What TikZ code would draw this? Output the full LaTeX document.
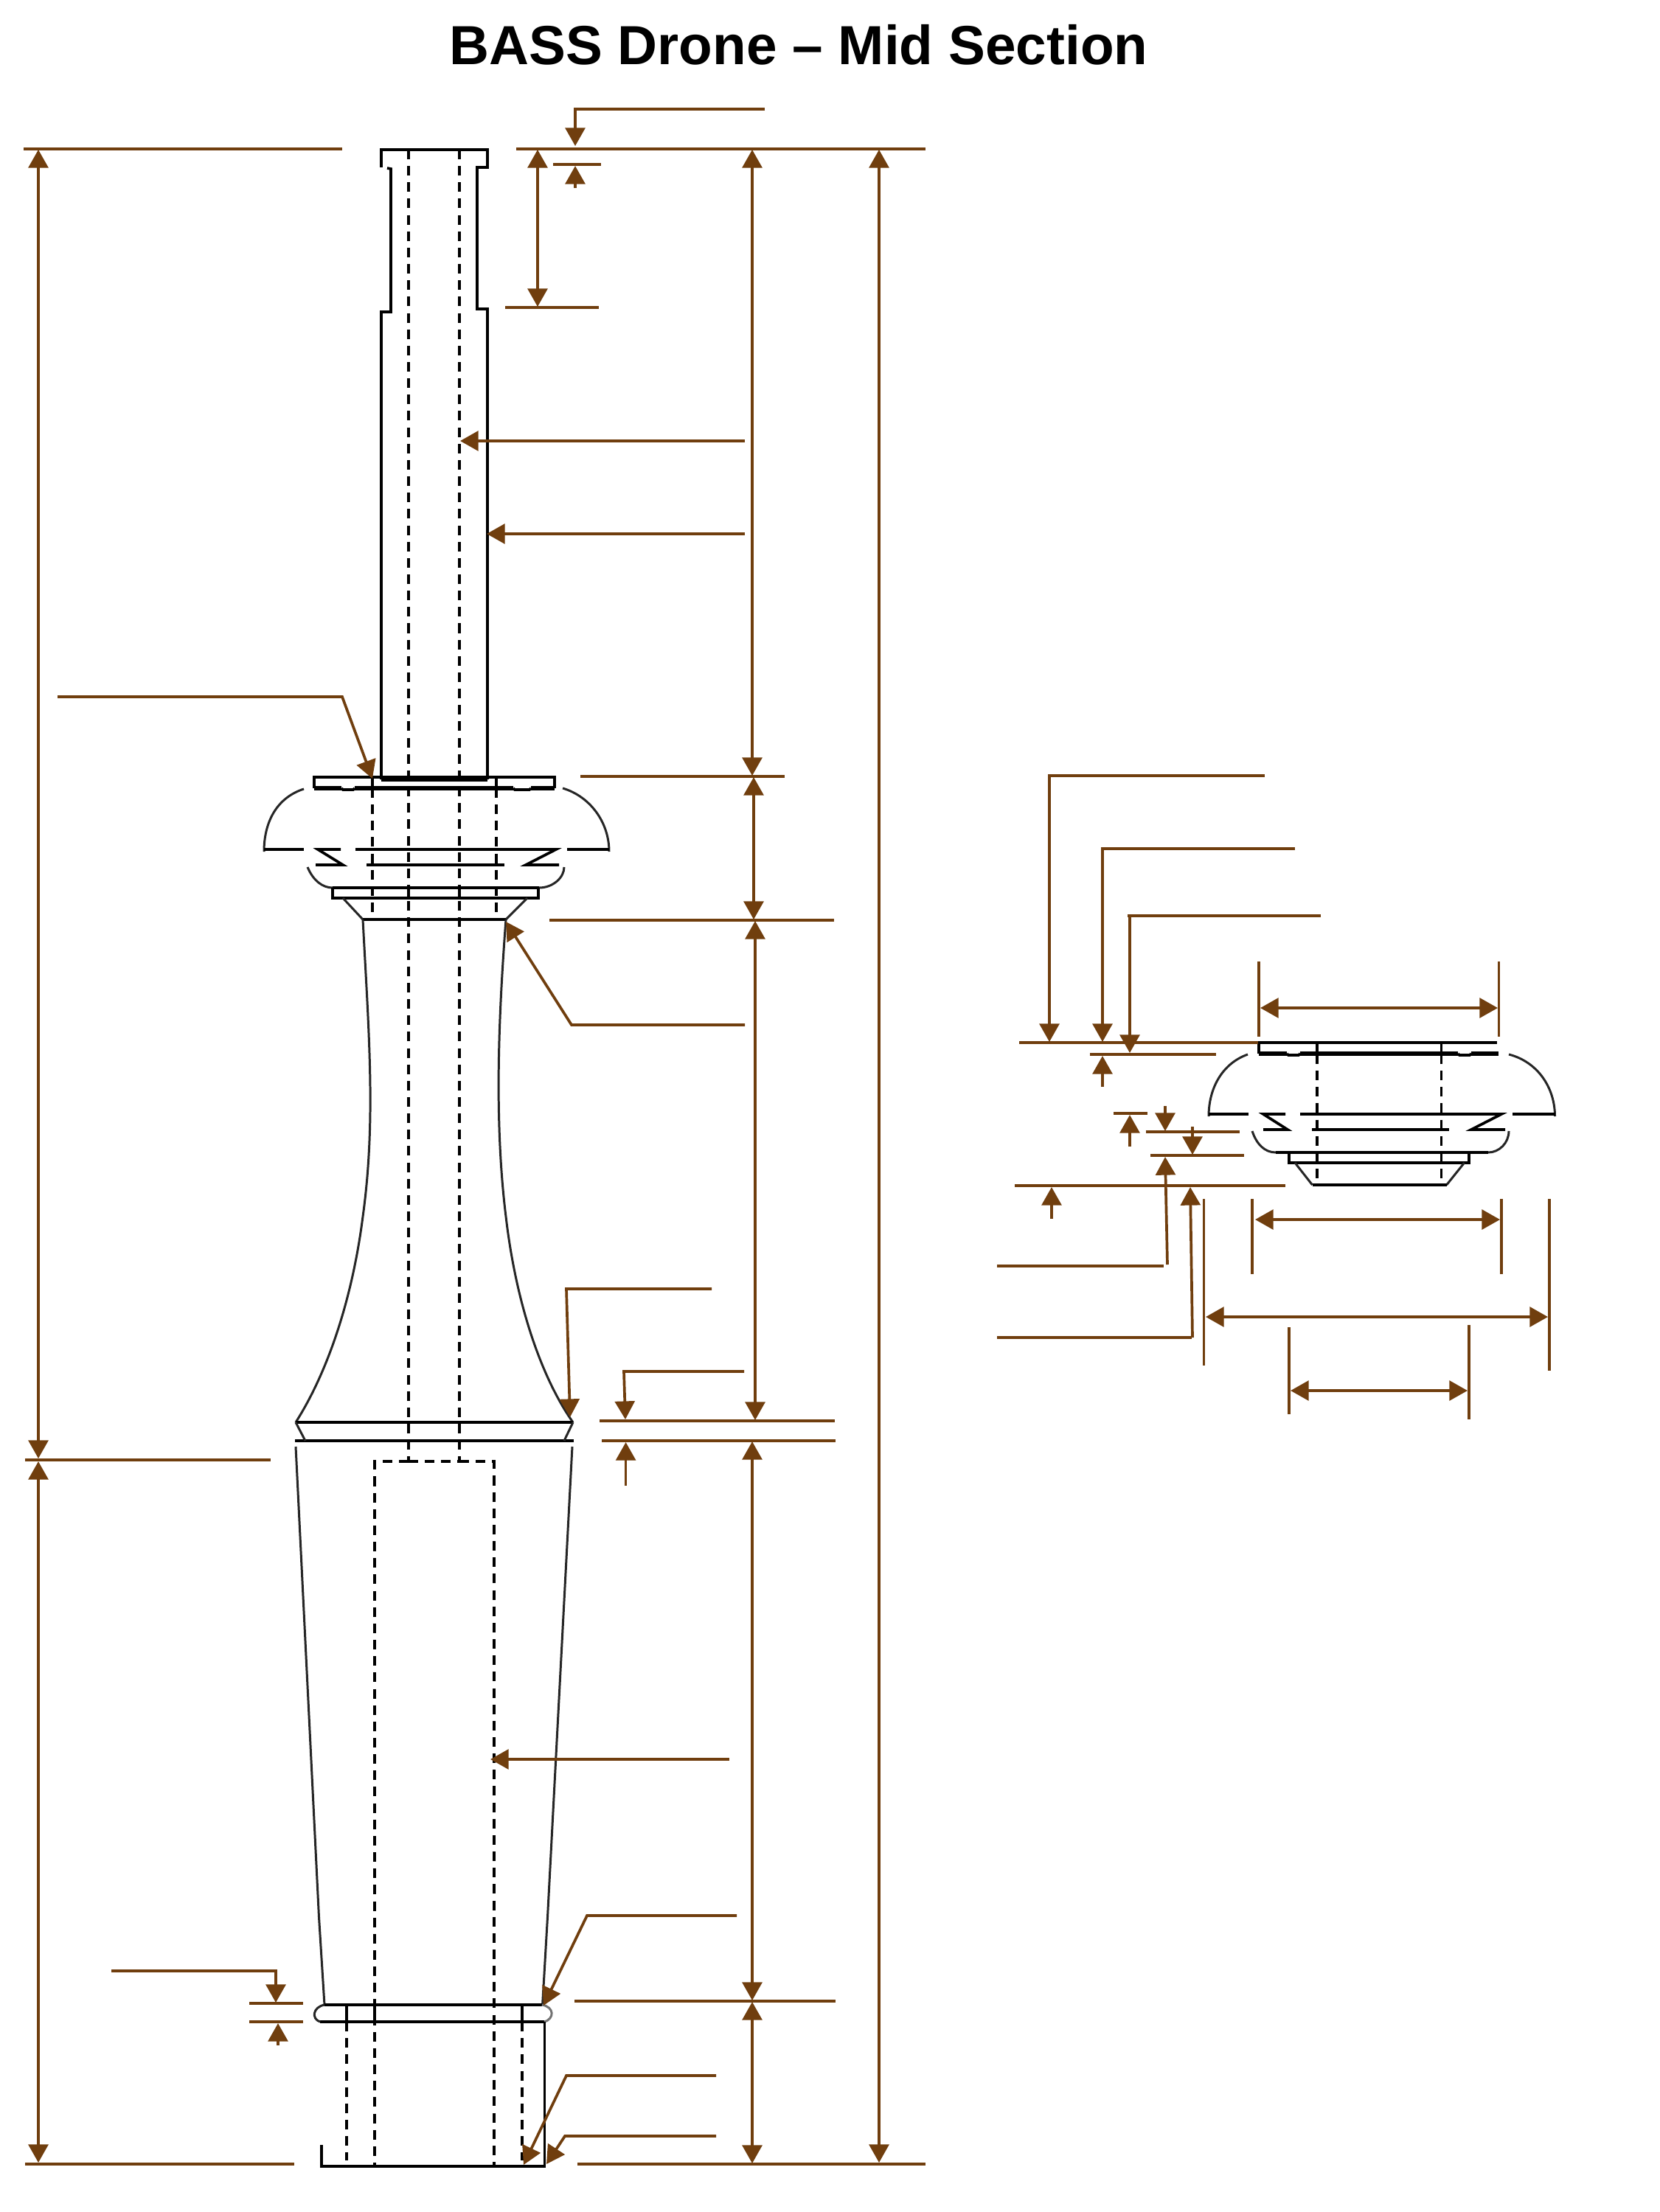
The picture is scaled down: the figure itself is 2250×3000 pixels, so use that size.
\documentclass[tikz,border=0pt]{standalone}
\usepackage{fontspec}
\setmainfont{Liberation Sans}
\usetikzlibrary{arrows.meta}
\definecolor{dimbrown}{RGB}{112,62,14}
\tikzset{
  obj/.style={draw=black,line width=1.05pt,line join=miter},
  thinobj/.style={draw=black!85,line width=0.85pt},
  thickobj/.style={draw=black,line width=1.6pt},
  hid/.style={draw=black,line width=1.05pt,dash pattern=on 3.7pt off 2.6pt},
  dimline/.style={draw=dimbrown,line width=1.05pt},
  tipend/.style={dimline,-{Triangle[length=7pt,width=7.6pt]}},
  tipboth/.style={dimline,{Triangle[length=7pt,width=7.6pt]}-{Triangle[length=7pt,width=7.6pt]}}
}
\begin{document}
\begin{tikzpicture}[x=0.01cm,y=-0.01cm]
\useasboundingbox[fill=white] (0,0) rectangle (2250,3000);
\node[font=\fontsize{21.25pt}{24pt}\selectfont\bfseries,inner sep=0pt] (title) at (1083,61) {BASS Drone – Mid Section};

% ---------- main part: hidden lines
\draw[hid] (554,203) -- (554,1982);
\draw[hid] (623,203) -- (623,1982);
\draw[hid] (505,1069) -- (505,1247);
\draw[hid] (673,1069) -- (673,1247);
\draw[hid] (554,1982) -- (508,1982) -- (508,2938);
\draw[hid] (623,1982) -- (670,1982) -- (670,2938);
\draw[hid] (554,1982) -- (623,1982);
\draw[hid] (470,2742) -- (470,2930);
\draw[hid] (708,2742) -- (708,2930);

% ---------- main part: shaft
\draw[obj] (517,227) -- (517,203) -- (661,203) -- (661,227) -- (647,227) -- (647,419) -- (661,419) -- (661,1057);
\draw[obj] (525,228) -- (530,229) -- (530,423) -- (517,423) -- (517,1057);
\draw[thickobj] (517,1057) -- (661,1057);

% ---------- flange
\draw[obj] (426,1069) -- (426,1054) -- (752,1054) -- (752,1069);
\draw[thickobj] (426,1069) -- (463,1069) (481,1069) -- (696,1069) (720,1069) -- (752,1069);
\draw[obj] (463,1069) -- (465,1071) -- (479,1071) -- (481,1069);
\draw[obj] (696,1069) -- (698,1071) -- (718,1071) -- (720,1069);
\draw[obj] (505,1054) -- (505,1069) (673,1054) -- (673,1069);

% ---------- dome
\draw[thinobj] (412,1070) .. controls (375,1082) and (358,1115) .. (358,1155);
\draw[thinobj] (763,1069) .. controls (800,1080) and (826,1115) .. (826,1155);
\draw[obj] (358,1152) -- (412,1152);
\draw[obj] (462,1152) -- (431,1152) -- (465,1173) -- (428,1173);
\draw[obj] (482,1152) -- (754,1152) -- (713,1173) -- (758,1173);
\draw[obj] (769,1152) -- (826,1152);
\draw[obj] (497,1173) -- (684,1173);
\draw[thinobj] (417,1176) .. controls (425,1195) and (438,1204) .. (451,1204);
\draw[thinobj] (765,1176) .. controls (765,1190) and (750,1204) .. (731,1204);
\draw[obj] (451,1204) -- (731,1204);
\draw[obj] (451,1204) -- (451,1218) -- (730,1218) -- (730,1204);
\draw[obj] (554,1204) -- (554,1218) (623,1204) -- (623,1218);
\draw[thinobj] (465,1218) -- (492,1247);
\draw[thinobj] (715,1218) -- (686,1247);
\draw[obj] (492,1247) -- (686,1247);

% ---------- waisted body
\draw[thinobj] (492,1247) .. controls (500,1400) and (510,1520) .. (492,1650) .. controls (478,1760) and (445,1860) .. (401,1929);
\draw[thinobj] (686,1247) .. controls (676,1380) and (670,1520) .. (686,1650) .. controls (700,1770) and (735,1870) .. (777,1929);
\draw[obj] (401,1929) -- (777,1929);
\draw[obj] (400,1954) -- (778,1954);
\draw[thinobj] (401,1929) -- (414,1954);
\draw[thinobj] (777,1929) -- (765,1954);

% ---------- tapered body and lower band
\draw[thinobj] (401,1962) -- (432.5,2600) -- (440,2719);
\draw[thinobj] (776,1962) -- (742.5,2600) -- (735.6,2719);
\draw[obj] (440,2719) -- (735,2719);
\draw[obj] (434,2742) -- (738,2742);
\draw[thinobj] (440,2719) .. controls (424,2722) and (422,2738) .. (434,2742);
\draw[draw=black!55,line width=0.85pt] (735,2719) .. controls (752,2722) and (752,2738) .. (738,2742);
\draw[obj] (470,2719) -- (470,2742) (508,2719) -- (508,2742) (708,2719) -- (708,2742);
\draw[obj] (436,2909) -- (436,2938) -- (738.5,2938) -- (738.5,2742);

% ---------- main part: dimensions
\draw[dimline] (32,202) -- (464,202);
\draw[dimline] (700,202) -- (1255,202);
\draw[dimline] (34,1980) -- (367,1980);
\draw[dimline] (34,2935) -- (399,2935);
\draw[dimline] (783,2935) -- (1255,2935);
\draw[tipboth] (52,203) -- (52,1978);
\draw[tipboth] (52,1982) -- (52,2933);
\draw[tipboth] (1192,203) -- (1192,2933);
\draw[tipboth] (1020,203) -- (1020,1052);
\draw[dimline] (787,1053) -- (1064,1053);
\draw[tipboth] (1022,1054) -- (1022,1247);
\draw[dimline] (745,1248) -- (1131,1248);
\draw[tipboth] (1024,1249) -- (1024,1926);
\draw[dimline] (813,1927) -- (1132,1927);
\draw[dimline] (816,1954) -- (1133,1954);
\draw[tipboth] (1020,1955) -- (1020,2713);
\draw[dimline] (779,2714) -- (1133,2714);
\draw[tipboth] (1020,2715) -- (1020,2934);

\draw[tipboth] (729,203) -- (729,416);
\draw[dimline] (685,417) -- (812,417);
\draw[dimline] (750,223) -- (815,223);
\draw[tipend] (1037,148) -- (780,148) -- (780,198);
\draw[tipend] (780,255) -- (780,225);
\draw[tipend] (1010,598) -- (624,598);
\draw[tipend] (1010,724) -- (660,724);
\draw[tipend] (78,945) -- (464,945) -- (505,1056);
\draw[tipend] (1010,1390) -- (775,1390) -- (686,1250);
\draw[tipend] (965,1748) -- (768,1748) -- (773,1922);
\draw[tipend] (1009,1860) -- (846,1860) -- (848,1925);
\draw[tipend] (848.6,2015) -- (848.6,1956);
\draw[tipend] (989,2386) -- (665,2386);
\draw[tipend] (999,2598) -- (796,2598) -- (737,2720);
\draw[tipend] (151,2673) -- (374,2673) -- (374,2716);
\draw[dimline] (338,2717) -- (411,2717);
\draw[dimline] (338,2742) -- (411,2742);
\draw[tipend] (377,2774) -- (377,2744);
\draw[tipend] (971,2815) -- (768,2815) -- (710,2936);
\draw[tipend] (971,2897) -- (766,2897) -- (741,2935);

% ---------- detail view: hidden and object lines
\draw[hid] (1786,1430) -- (1786,1605);
\draw[hid] (1954.5,1430) -- (1954.5,1605);
\draw[obj] (1707,1429) -- (1707,1414) -- (2030,1414);
\draw[thickobj] (1707,1429) -- (1745,1429) (1763,1429) -- (1977,1429) (1995,1429) -- (2032,1429);
\draw[obj] (1745,1429) -- (1747,1431) -- (1761,1431) -- (1763,1429);
\draw[obj] (1977,1429) -- (1979,1431) -- (1993,1431) -- (1995,1429);
\draw[obj] (1786,1414) -- (1786,1429) (1954.5,1414) -- (1954.5,1429);
\draw[thinobj] (1692,1430) .. controls (1658,1442) and (1639,1475) .. (1639,1514);
\draw[thinobj] (2046,1430) .. controls (2085,1440) and (2108.5,1475) .. (2108.5,1514);
\draw[obj] (1639,1511) -- (1693,1511);
\draw[obj] (1743,1511) -- (1713,1511) -- (1746,1532) -- (1713,1532);
\draw[obj] (1763,1511) -- (2036,1511) -- (1995,1532) -- (2041,1532);
\draw[obj] (2051,1511) -- (2108.5,1511);
\draw[obj] (1779,1532) -- (1965,1532);
\draw[thinobj] (1698,1534) .. controls (1704,1552) and (1715,1563) .. (1730,1563);
\draw[thinobj] (2046,1534) .. controls (2046,1550) and (2033,1563) .. (2018,1563);
\draw[obj] (1730,1563) -- (2018,1563);
\draw[obj] (1748,1563) -- (1748,1577) -- (1992,1577) -- (1992,1563);
\draw[thinobj] (1756,1577) -- (1779.5,1607);
\draw[thinobj] (1985.6,1577) -- (1961.6,1607);
\draw[obj] (1779.5,1607) -- (1961.6,1607);

% ---------- detail view: dimensions
\draw[dimline] (1382,1414) -- (1706,1414);
\draw[dimline] (1478,1430) -- (1649,1430);
\draw[tipend] (1715,1052) -- (1423,1052) -- (1423,1413);
\draw[tipend] (1756,1151) -- (1495,1151) -- (1495,1413);
\draw[dimline] (1791,1242) -- (1529,1242);
\draw[tipend] (1532,1242) -- (1532,1428);
\draw[tipend] (1495,1474) -- (1495,1432);
\draw[dimline] (1707,1304) -- (1707,1406);
\draw[dimline] (2032.5,1304) -- (2032.5,1406);
\draw[tipboth] (1709,1367) -- (2031,1367);
\draw[dimline] (1510,1510) -- (1556,1510);
\draw[tipend] (1532,1555) -- (1532,1512);
\draw[tipend] (1580,1500) -- (1580,1534);
\draw[dimline] (1553.5,1535) -- (1681,1535);
\draw[tipend] (1617,1528) -- (1617,1566);
\draw[dimline] (1560,1567) -- (1687,1567);
\draw[dimline] (1376,1608) -- (1743,1608);
\draw[tipend] (1426,1653) -- (1426,1610);
\draw[dimline] (1352,1717) -- (1578,1717);
\draw[tipend] (1583,1715) -- (1580,1569);
\draw[dimline] (1352,1814) -- (1616,1814);
\draw[tipend] (1617,1814) -- (1614,1610);
\draw[dimline] (1632.5,1626) -- (1632.5,1852);
\draw[dimline] (1698,1626) -- (1698,1728);
\draw[dimline] (2036,1626) -- (2036,1728);
\draw[dimline] (2101,1626) -- (2101,1859);
\draw[tipboth] (1702,1654) -- (2034,1654);
\draw[tipboth] (1635,1786) -- (2099,1786);
\draw[dimline] (1748,1800) -- (1748,1918);
\draw[dimline] (1992,1797) -- (1992,1925);
\draw[tipboth] (1750,1886) -- (1990,1886);
\end{tikzpicture}
\end{document}
